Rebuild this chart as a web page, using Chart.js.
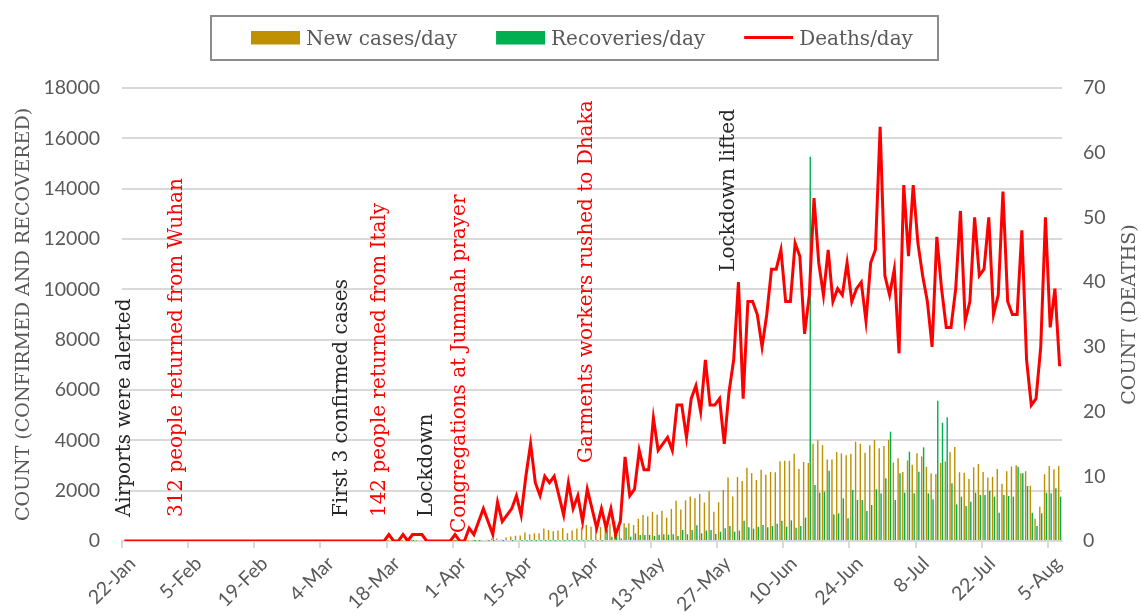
<!DOCTYPE html>
<html>
<head>
<meta charset="utf-8">
<script src="https://cdn.jsdelivr.net/npm/chart.js@4.4.0/dist/chart.umd.min.js"></script>
<style>
html,body{margin:0;padding:0;background:#ffffff;}
#wrap{width:1141px;height:615px;}
</style>
</head>
<body>
<div id="wrap"><canvas id="c" width="1141" height="615"></canvas></div>
<script>
// ---------- categories: one slot per day, 22-Jan-2020 .. 7-Aug-2020 ----------
const monthNames = ['Jan','Feb','Mar','Apr','May','Jun','Jul','Aug','Sep','Oct','Nov','Dec'];
const firstDay = Date.UTC(2020, 0, 22);
const dayCount = 199;
const dates = [];
for (let i = 0; i < dayCount; i++) {
  const d = new Date(firstDay + i * 86400000);
  dates.push(d.getUTCDate() + '-' + monthNames[d.getUTCMonth()]);
}
const tickEvery = 14;

// ---------- series ----------
const newCases = [
  0,0,0,0,0,0,0,0,0,0, 0,0,0,0,0,0,0,0,0,0,
  0,0,0,0,0,0,0,0,0,0, 0,0,0,0,0,0,0,0,0,0,
  0,0,0,0,0,0,3,0,0,0, 0,0,2,0,3,2,4,3,3,4,
  3,6,6,0,5,4,0,0,1,2,
  3,2,5,9,18,35,41,54,112,94,
  58,139,182,209,219,341,266,306,312,492,
  434,390,414,503,309,418,497,549,641,564,
  571,552,665,688,786,790,706,709,636,887,
  1034,969,1162,1041,1202,930,1273,1602,1251,1617,
  1773,1694,1873,1532,1975,1166,1541,2029,2523,1764,
  2545,2381,2911,2695,2423,2828,2635,2743,2735,3171,
  3190,3187,3471,2856,3141,3099,3862,4008,3803,3243,
  3240,3531,3480,3412,3462,3946,3868,3504,3809,4014,
  3682,3775,4019,3114,3288,2738,3201,3027,3489,3360,
  2949,2686,2666,3099,3163,3533,3733,2733,2709,2459,
  2928,3057,2744,2520,2548,2856,2275,2772,2960,3009,
  2695,2772,2199,887,1356,2654,2977,2851,2977
];
const recoveries = [
  0,0,0,0,0,0,0,0,0,0, 0,0,0,0,0,0,0,0,0,0,
  0,0,0,0,0,0,0,0,0,0, 0,0,0,0,0,0,0,0,0,0,
  0,0,0,0,0,0,0,0,0,0, 0,0,0,0,3,0,0,0,0,0,
  0,2,0,0,0,4,4,0,6,4,
  1,0,1,0,1,2,0,7,3,0,
  3,0,7,0,7,9,9,3,9,10,
  9,8,17,9,16,19,10,16,20,17,
  23,13,460,170,240,100,540,170,300,240,
  240,240,200,250,270,250,270,200,437,265,
  437,622,305,420,437,275,371,503,596,371,
  410,808,543,490,570,636,543,596,690,808,
  570,820,530,596,927,15270,2225,1920,1960,2794,
  1060,1099,1695,900,2026,1629,1629,1192,1430,2053,
  1894,2490,4344,1629,2688,1920,3549,1894,2754,3721,
  1894,1656,5576,4702,4914,2291,1457,1761,1390,1563,
  1920,1828,1828,2000,1761,1126,1828,1788,1761,2953,
  2688,2185,1126,596,1099,1920,1894,2093,1761
];
const deaths = [
  0,0,0,0,0,0,0,0,0,0, 0,0,0,0,0,0,0,0,0,0,
  0,0,0,0,0,0,0,0,0,0, 0,0,0,0,0,0,0,0,0,0,
  0,0,0,0,0,0,0,0,0,0, 0,0,0,0,0,0,1,0,0,1,
  0,1,1,1,0,0,0,0,0,0,
  1,0,0,2,1,3,5,3,1,6,
  3,4,5,7,4,10,15,9,7,10,
  9,10,7,4,9,5,7,3,8,5,
  2,5,2,5,1,3,13,7,8,14,
  11,11,19,14,15,16,14,21,21,16,
  22,24,20,28,21,21,22,15,23,28,
  40,22,37,37,35,30,35,42,42,45,
  37,37,46,44,32,38,53,43,38,45,
  37,39,38,43,37,39,40,34,43,45,
  64,41,38,42,29,55,44,55,46,41,
  37,30,47,39,33,33,39,51,34,37,
  50,41,42,50,35,38,54,37,35,35,
  48,28,21,22,30,50,33,39,27
];

const seriesNames = ['New cases/day', 'Recoveries/day', 'Deaths/day'];
const leftTicks = { min: 0, max: 18000, step: 2000 };
const rightTicks = { min: 0, max: 70, step: 10 };
const leftTitle = 'COUNT (CONFIRMED AND RECOVERED)';
const rightTitle = 'COUNT (DEATHS)';

// ---------- event notes (date, text, level on the left axis where the text starts) ----------
const noteDates  = ['22-Jan', '2-Feb', '8-Mar', '16-Mar', '26-Mar', '2-Apr', '29-Apr', '29-May'];
const noteTexts  = ['Airports were alerted', '312 people returned from Wuhan', 'First 3 confirmed cases',
                    '142 people returned from Italy', 'Lockdown', 'Congregations at Jummah prayer',
                    'Garments workers rushed to Dhaka', 'Lockdown lifted'];
const noteLevels = [950, 950, 950, 950, 950, 320, 3100, 10700];
const noteKinds  = ['dark', 'red', 'dark', 'red', 'dark', 'red', 'red', 'dark'];

// ---------- styles ----------
const GOLD = '#BF9000', GREEN = '#00B050', RED = '#FF0000';
const TICK_COLOR = '#595959', GRID = '#d9d9d9';
const SERIF = '"DejaVu Serif", serif';
const SANS = 'Lato, "Open Sans", sans-serif';
const noteColor = { dark: '#262626', red: '#FF0000' };

const extras = {
  id: 'extras',
  beforeDatasetsDraw(chart) {
    const { ctx, scales } = chart;
    ctx.save();
    ctx.font = '20px ' + SERIF;
    ctx.textBaseline = 'middle';
    ctx.textAlign = 'left';
    noteTexts.forEach((t, i) => {
      const px = scales.x.getPixelForValue(dates.indexOf(noteDates[i]));
      const py = scales.y.getPixelForValue(noteLevels[i]);
      ctx.save();
      ctx.translate(px, py);
      ctx.rotate(-Math.PI / 2);
      ctx.fillStyle = noteColor[noteKinds[i]];
      ctx.fillText(t, 0, 0);
      ctx.restore();
    });
    ctx.restore();
  },
  afterDraw(chart) {
    const { ctx, chartArea } = chart;
    ctx.save();
    // right axis title (reads bottom to top)
    ctx.font = '19px ' + SERIF;
    ctx.fillStyle = TICK_COLOR;
    ctx.textAlign = 'center';
    ctx.textBaseline = 'middle';
    ctx.translate(1130, (chartArea.top + chartArea.bottom) / 2);
    ctx.rotate(-Math.PI / 2);
    ctx.fillText(rightTitle, 0, 0);
    ctx.restore();

    // legend in a framed box
    ctx.save();
    ctx.strokeStyle = '#8c8c8c';
    ctx.lineWidth = 2;
    ctx.strokeRect(211, 16, 727, 44);
    ctx.font = '20px ' + SERIF;
    ctx.textBaseline = 'alphabetic';
    ctx.textAlign = 'left';
    let x = 251;
    chart.data.datasets.forEach((ds) => {
      if (ds.type === 'line') {
        ctx.strokeStyle = ds.borderColor;
        ctx.lineWidth = 3;
        ctx.beginPath();
        ctx.moveTo(x, 37.5);
        ctx.lineTo(x + 49, 37.5);
        ctx.stroke();
      } else {
        ctx.fillStyle = ds.backgroundColor;
        ctx.fillRect(x, 31, 49, 13.5);
      }
      x += 49 + 6;
      ctx.fillStyle = TICK_COLOR;
      ctx.fillText(ds.label, x, 45);
      x += ctx.measureText(ds.label).width + 39;
    });
    ctx.restore();
  }
};

new Chart(document.getElementById('c'), {
  data: {
    labels: dates,
    datasets: [
      { type: 'bar', label: seriesNames[0], data: newCases, backgroundColor: GOLD, yAxisID: 'y', order: 1,
        barPercentage: 0.75, categoryPercentage: 0.8 },
      { type: 'bar', label: seriesNames[1], data: recoveries, backgroundColor: GREEN, yAxisID: 'y', order: 1,
        barPercentage: 0.75, categoryPercentage: 0.8 },
      { type: 'line', label: seriesNames[2], data: deaths, borderColor: RED, backgroundColor: RED,
        borderWidth: 3, pointRadius: 0, tension: 0, yAxisID: 'y2', order: 0 }
    ]
  },
  options: {
    responsive: false,
    animation: false,
    devicePixelRatio: 1,
    layout: { padding: { top: 88, left: 0, right: 0, bottom: 0 } },
    plugins: { legend: { display: false }, tooltip: { enabled: false } },
    scales: {
      x: {
        type: 'category',
        offset: true,
        grid: {
          offset: true, drawOnChartArea: false, drawTicks: true, tickLength: 7, lineWidth: 2,
          tickColor: (c) => (c.index % tickEvery === 0 ? GRID : 'rgba(0,0,0,0)')
        },
        border: { display: true, color: GRID, width: 2 },
        ticks: {
          autoSkip: false, maxRotation: 45, minRotation: 45, padding: 4, labelOffset: 8,
          color: TICK_COLOR, font: { family: SANS, size: 19.5 },
          callback: (v, i) => (i % tickEvery === 0 ? dates[i] : '')
        },
        afterFit: (s) => { s.height = 74; }
      },
      y: {
        position: 'left',
        min: leftTicks.min, max: leftTicks.max,
        ticks: { stepSize: leftTicks.step, padding: 22, color: TICK_COLOR, font: { family: SANS, size: 19.5 },
                 callback: (v) => String(v) },
        grid: { color: GRID, lineWidth: 2, drawTicks: false },
        border: { display: false },
        title: { display: true, text: leftTitle, color: TICK_COLOR, font: { family: SERIF, size: 19 },
                 padding: { top: 13, bottom: 0 } },
        afterFit: (s) => { s.width = 122; }
      },
      y2: {
        position: 'right',
        min: rightTicks.min, max: rightTicks.max,
        ticks: { stepSize: rightTicks.step, padding: 21, color: TICK_COLOR, font: { family: SANS, size: 19.5 },
                 callback: (v) => String(v) },
        grid: { display: false, drawTicks: false },
        border: { display: false },
        afterFit: (s) => { s.width = 79; }
      }
    }
  },
  plugins: [extras]
});
</script>
</body>
</html>
